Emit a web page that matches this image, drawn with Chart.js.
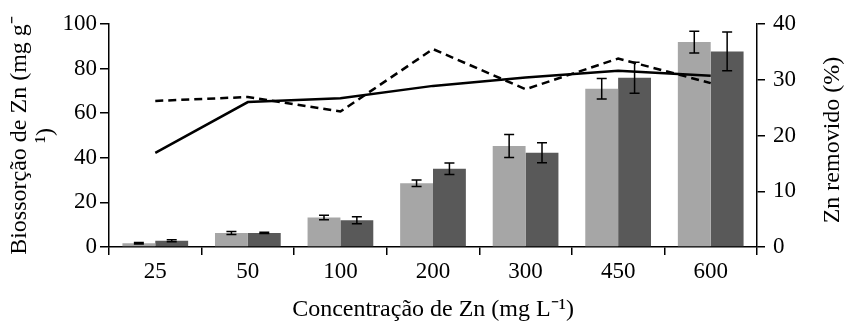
<!DOCTYPE html>
<html>
<head>
<meta charset="utf-8">
<script src="https://cdn.jsdelivr.net/npm/chart.js@4"></script>
<style>
  html, body { margin:0; padding:0; background:#fff; }
  #wrap { width:846px; height:330px; }
</style>
</head>
<body>
<div id="wrap"><canvas id="chart"></canvas></div>
<script>
const concentracoes = ["25","50","100","200","300","450","600"];

// biossorção (mg g-1), barras
const bioClaro = [1.7, 6.3, 13.2, 28.6, 45.3, 71.0, 91.9];
const bioClaroErro = [0.3, 0.7, 1.0, 1.5, 5.2, 4.6, 4.9];
const bioEscuro = [2.8, 6.3, 12.0, 35.1, 42.3, 75.9, 87.7];
const bioEscuroErro = [0.5, 0.3, 1.6, 2.6, 4.5, 6.9, 8.7];

// Zn removido (%), linhas
const removidoSolida = [16.9, 26.0, 26.7, 28.9, 30.4, 31.6, 30.7];
const removidoTracejada = [26.2, 26.9, 24.3, 35.5, 28.3, 33.8, 29.4];

const yTicks = [0, 20, 40, 60, 80, 100];
const y1Ticks = [0, 10, 20, 30, 40];

const fonte = "'Liberation Serif', 'Times New Roman', serif";
Chart.defaults.font.family = fonte;
Chart.defaults.color = "#000";

// dataset index -> erros
const erros = { 2: bioClaroErro, 3: bioEscuroErro };

const errorBars = {
  id: "errorBars",
  afterDatasetsDraw(chart) {
    const ctx = chart.ctx;
    const y = chart.scales.y;
    ctx.save();
    ctx.strokeStyle = "#000";
    ctx.lineWidth = 1.5;
    [2, 3].forEach(i => {
      const meta = chart.getDatasetMeta(i);
      const vals = chart.data.datasets[i].data;
      meta.data.forEach((bar, k) => {
        const v = vals[k], e = erros[i][k];
        const yt = y.getPixelForValue(v + e);
        const yb = y.getPixelForValue(v - e);
        const x = bar.x, w = 5;
        ctx.beginPath();
        ctx.moveTo(x, yt); ctx.lineTo(x, yb);
        ctx.moveTo(x - w, yt); ctx.lineTo(x + w, yt);
        ctx.moveTo(x - w, yb); ctx.lineTo(x + w, yb);
        ctx.stroke();
      });
    });
    ctx.restore();
  }
};

const rightTitle = {
  id: "rightTitle",
  afterDraw(chart) {
    const ctx = chart.ctx;
    ctx.save();
    ctx.translate(833, 140);
    ctx.rotate(-Math.PI / 2);
    ctx.font = "24px " + fonte;
    ctx.fillStyle = "#000";
    ctx.textAlign = "center";
    ctx.textBaseline = "middle";
    ctx.fillText("Zn removido (%)", 0, 0);
    ctx.restore();
  }
};

new Chart(document.getElementById("chart"), {
  data: {
    labels: concentracoes,
    datasets: [
      { type:"line", data:removidoSolida, yAxisID:"y1", borderColor:"#000", borderWidth:2.5,
        pointRadius:0, fill:false, tension:0, order:0 },
      { type:"line", data:removidoTracejada, yAxisID:"y1", borderColor:"#000", borderWidth:2.5,
        borderDash:[8,5], pointRadius:0, fill:false, tension:0, order:0 },
      { type:"bar", data:bioClaro, yAxisID:"y", backgroundColor:"#a6a6a6", borderWidth:0,
        categoryPercentage:0.71, barPercentage:1, order:1 },
      { type:"bar", data:bioEscuro, yAxisID:"y", backgroundColor:"#595959", borderWidth:0,
        categoryPercentage:0.71, barPercentage:1, order:1 }
    ]
  },
  options: {
    responsive:true,
    maintainAspectRatio:false,
    animation:false,
    layout:{ padding:{ top:24, right:0, left:0, bottom:0 } },
    plugins:{ legend:{ display:false }, tooltip:{ enabled:false } },
    scales:{
      x:{
        offset:true,
        grid:{ offset:true, drawOnChartArea:false, color:"#000", tickLength:8, lineWidth:1.5 },
        border:{ color:"#000", width:1.5 },
        ticks:{ font:{ size:23 }, padding:3 },
        title:{ display:true, text:"Concentração de Zn (mg L⁻¹)", font:{ size:24 }, padding:{ top:0, bottom:6 } },
        afterFit(s){ s.height = 83; }
      },
      y:{
        position:"left",
        min:0, max:100,
        afterBuildTicks(s){ s.ticks = yTicks.map(v => ({ value:v })); },
        grid:{ drawOnChartArea:false, color:"#000", tickLength:9, lineWidth:1.5 },
        border:{ color:"#000", width:1.5 },
        ticks:{ font:{ size:23 }, padding:3 },
        title:{ display:true, text:["Biossorção de Zn (mg g⁻", "¹)"], font:{ size:24, lineHeight:1.08 }, padding:{ top:7 } },
        afterFit(s){ s.width = 109; }
      },
      y1:{
        position:"right",
        min:0, max:40,
        afterBuildTicks(s){ s.ticks = y1Ticks.map(v => ({ value:v })); },
        grid:{ drawOnChartArea:false, color:"#000", tickLength:8, lineWidth:1.5 },
        border:{ color:"#000", width:1.5 },
        ticks:{ font:{ size:23 }, padding:8 },
        afterFit(s){ s.width = 89; }
      }
    }
  },
  plugins:[errorBars, rightTitle]
});
</script>
</body>
</html>
